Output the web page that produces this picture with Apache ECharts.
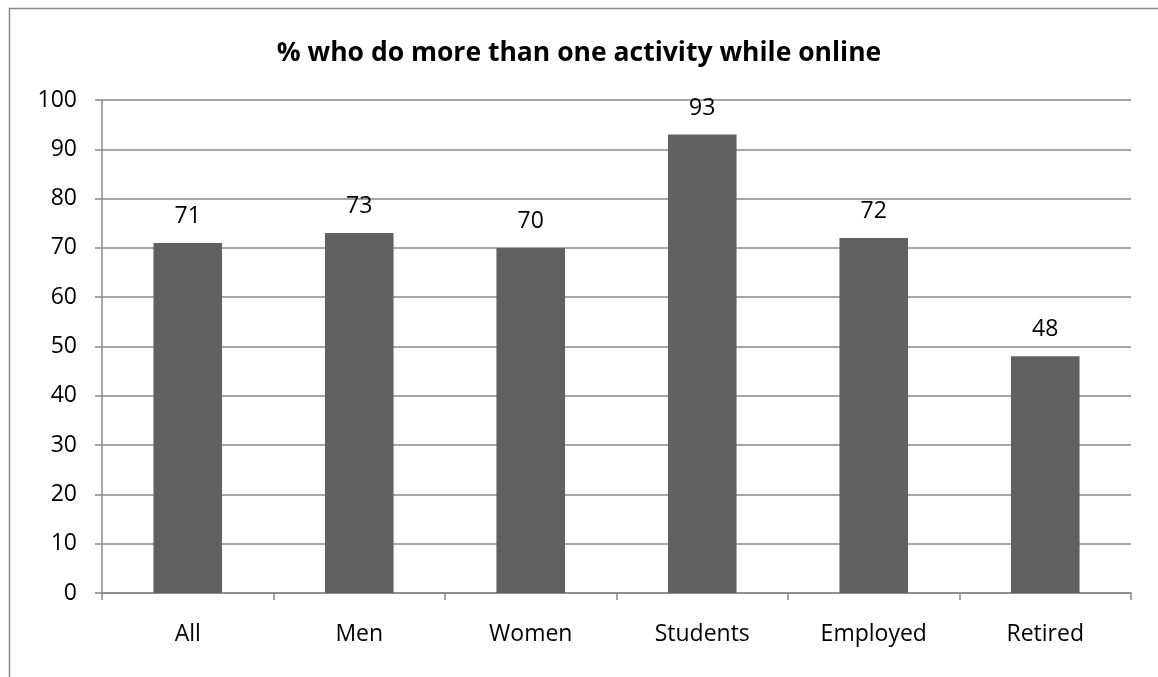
<!DOCTYPE html>
<html><head><meta charset="utf-8">
<script src="https://cdn.jsdelivr.net/npm/echarts@6/dist/echarts.min.js"></script>
<style>html,body{margin:0;padding:0;background:#fff;}#c{width:1158px;height:677px;}</style>
</head><body><div id="c"></div>
<script>
const titleText = '% who do more than one activity while online';
const categories = ['All', 'Men', 'Women', 'Students', 'Employed', 'Retired'];
const values = [71, 73, 70, 93, 72, 48];
const yTicks = { min: 0, max: 100, interval: 10 };

const chart = echarts.init(document.getElementById('c'), null, {renderer: 'canvas'});
const font = '"Open Sans", "Noto Sans", sans-serif';
chart.setOption({
  animation: false,
  backgroundColor: '#fff',
  title: {
    text: titleText, left: 'center', top: 35,
    textStyle: {fontFamily: font, fontSize: 26.5, fontWeight: 'bold', color: '#000'}
  },
  graphic: [{
    type: 'rect', left: 7, top: 6, shape: {width: 1200, height: 700},
    style: {fill: 'none', stroke: '#888', lineWidth: 1.5}, silent: true
  }],
  grid: {left: 102, right: 27, top: 100, bottom: 84, containLabel: false},
  xAxis: {
    type: 'category', data: categories,
    axisLine: {lineStyle: {color: '#888', width: 1.5}},
    axisTick: {show: true, length: 7, lineStyle: {color: '#888', width: 1.5}},
    axisLabel: {fontFamily: font, fontSize: 23, color: '#000', margin: 30}
  },
  yAxis: {
    type: 'value', min: yTicks.min, max: yTicks.max, interval: yTicks.interval,
    axisLine: {show: true, lineStyle: {color: '#888', width: 1.5}},
    axisTick: {show: true, length: 7, lineStyle: {color: '#888', width: 1.5}},
    splitLine: {lineStyle: {color: '#888', width: 1.5}},
    axisLabel: {fontFamily: font, fontSize: 23, color: '#000', margin: 25}
  },
  series: [{
    type: 'bar', data: values, barWidth: '40%',
    itemStyle: {color: '#606060'},
    label: {show: true, position: 'top', distance: 15, fontFamily: font, fontSize: 23, color: '#000'}
  }]
});
</script></body></html>
